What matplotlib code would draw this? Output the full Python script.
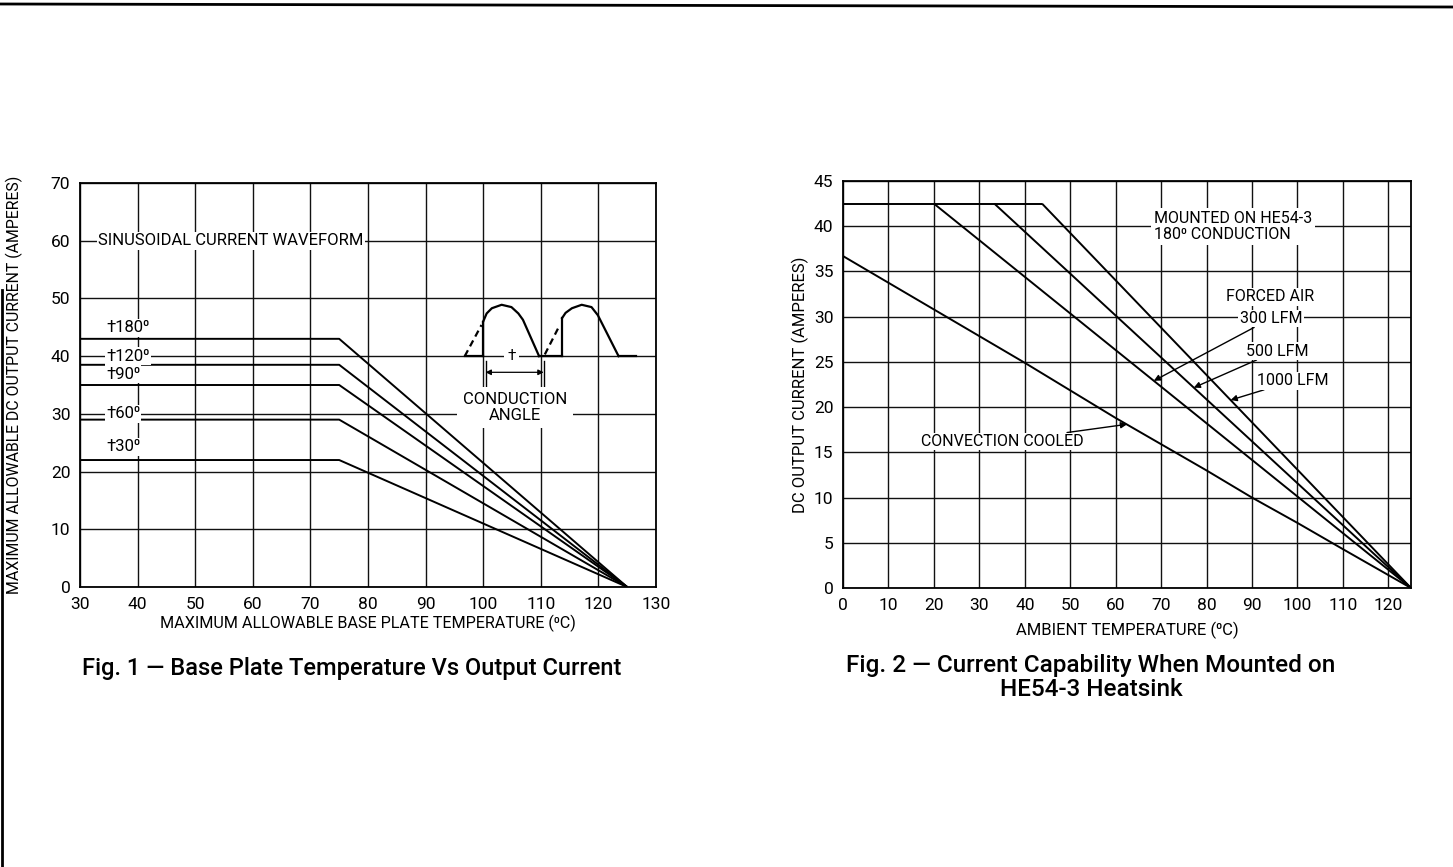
import matplotlib
matplotlib.use("Agg")
import matplotlib.pyplot as plt
from matplotlib.lines import Line2D

# ---------------- DATA ----------------
# Fig. 1 : base plate temperature vs output current
fig1_x_ticks = [30, 40, 50, 60, 70, 80, 90, 100, 110, 120, 130]
fig1_y_ticks = [0, 10, 20, 30, 40, 50, 60, 70]
angle_labels = ["†180⁰", "†120⁰", "†90⁰", "†60⁰", "†30⁰"]
angle_current = [43.0, 38.5, 35.0, 29.0, 22.0]      # flat current (A)
fig1_temps = [30, 75, 125]                          # start, knee, zero-current temperature

# inset waveform (data coords)
wave1_x = [100.0, 100.6, 101.5, 103.2, 104.9, 106.1, 106.9, 109.7]
wave1_y = [46.0, 47.4, 48.3, 48.9, 48.5, 47.4, 46.3, 40.0]
wave2_x = [113.7, 114.3, 115.4, 117.1, 118.8, 119.9, 123.5]
wave2_y = [46.6, 47.5, 48.3, 48.9, 48.5, 47.1, 40.0]

# Fig. 2 : current capability on HE54-3 heatsink
fig2_x_ticks = [0, 10, 20, 30, 40, 50, 60, 70, 80, 90, 100, 110, 120]
fig2_y_ticks = [0, 5, 10, 15, 20, 25, 30, 35, 40, 45]
conv_temp = [0, 20, 40, 60, 80, 90, 100, 110, 125]
conv_current = [36.7, 30.8, 24.9, 18.8, 13.0, 10.0, 7.2, 4.3, 0.0]
air_labels = ["300 LFM", "500 LFM", "1000 LFM"]
air_knee_temp = [20.0, 33.3, 43.8]
air_max_current = 42.5
zero_temp = 125

# ---------------- STYLE ----------------
NARROW = ["Roboto", "DejaVu Sans"]
CAP = ["Roboto", "DejaVu Sans"]
plt.rcParams["font.family"] = NARROW

W, H = 1453, 867
fig = plt.figure(figsize=(W / 100, H / 100), dpi=100)
fig.patch.set_facecolor("white")

def fx(px):
    return px / W

def fy(py):
    return 1 - py / H

# page decoration lines
fig.add_artist(Line2D([0, 1], [fy(4), fy(7)], color="black", lw=2.0, transform=fig.transFigure))
fig.add_artist(Line2D([fx(1.5), fx(1.5)], [fy(290), fy(867)], color="black", lw=2.0, transform=fig.transFigure))

LINE_KW = dict(color="black", lw=1.4, solid_capstyle="butt")
BOX = dict(facecolor="white", edgecolor="none", pad=1.0)

def style_axes(ax):
    ax.set_axisbelow(True)
    ax.grid(True, color="#111111", lw=1.0)
    for s in ax.spines.values():
        s.set_color("black")
        s.set_linewidth(1.3)
    ax.tick_params(length=0, labelsize=12.5, pad=7)

# ---------------- FIG 1 ----------------
ax1 = fig.add_axes([fx(80), fy(587), fx(656) - fx(80), fy(183) - fy(587)])
ax1.set_xlim(30, 130)
ax1.set_ylim(0, 70)
ax1.set_xticks(fig1_x_ticks)
ax1.set_yticks(fig1_y_ticks)
style_axes(ax1)

for cur in angle_current:
    ax1.plot(fig1_temps, [cur, cur, 0], **LINE_KW)

lab_y = [44.9, 40.0, 36.9, 30.0, 24.3]
for lab, y in zip(angle_labels, lab_y):
    ax1.text(34.5, y, lab, fontsize=12, ha="left", va="center", bbox=BOX, zorder=4)

ax1.text(56.2, 60, "SINUSOIDAL CURRENT WAVEFORM", fontsize=12, ha="center", va="center",
         bbox=BOX, zorder=4)

# inset waveform
wkw = dict(color="black", lw=1.6)
ax1.plot(wave1_x, wave1_y, **wkw)
ax1.plot(wave2_x, wave2_y, **wkw)
ax1.plot([wave1_x[0], wave1_x[0]], [40, wave1_y[0]], **wkw)
ax1.plot([wave2_x[0], wave2_x[0]], [40, wave2_y[0]], **wkw)
ax1.plot([96.8, wave1_x[0]], [40, 40], **wkw)
ax1.plot([wave1_x[-1], wave2_x[0]], [40, 40], **wkw)
ax1.plot([wave2_x[-1], 126.6], [40, 40], **wkw)
ax1.plot([96.8, 99.7], [40, 45.4], color="black", lw=1.6, ls=(0, (3, 2)))
ax1.plot([110.7, 113.2], [40.3, 45.2], color="black", lw=1.6, ls=(0, (3, 2)))
ax1.text(104.9, 40, "†", fontsize=11, ha="center", va="center",
         bbox=dict(facecolor="white", edgecolor="none", pad=2.5), zorder=4)
ax1.plot([100.4, 100.4], [34.7, 39.2], color="black", lw=1.0)
ax1.plot([110.5, 110.5], [34.7, 39.2], color="black", lw=1.0)
ax1.annotate("", xy=(100.4, 37.2), xytext=(110.5, 37.2),
             arrowprops=dict(arrowstyle="<|-|>", lw=0.9, color="black", mutation_scale=8,
                             shrinkA=0, shrinkB=0))
ax1.text(105.5, 31.1, "CONDUCTION\nANGLE", fontsize=12, ha="center", va="center",
         multialignment="center", linespacing=1.05,
         bbox=dict(facecolor="white", edgecolor="none", pad=4), zorder=4)

ax1.set_xlabel("MAXIMUM ALLOWABLE BASE PLATE TEMPERATURE (⁰C)", fontsize=11.6, va="center")
ax1.xaxis.set_label_coords(0.5, (587 - 623) / 404)
ax1.set_ylabel("MAXIMUM ALLOWABLE DC OUTPUT CURRENT (AMPERES)", fontsize=11.4, va="center")
ax1.yaxis.set_label_coords((14 - 80) / 576, 0.5)

# ---------------- FIG 2 ----------------
ax2 = fig.add_axes([fx(843), fy(588), fx(1411) - fx(843), fy(181) - fy(588)])
ax2.set_xlim(0, 125)
ax2.set_ylim(0, 45)
ax2.set_xticks(fig2_x_ticks)
ax2.set_yticks(fig2_y_ticks)
style_axes(ax2)

ax2.plot(conv_temp, conv_current, **LINE_KW)
ax2.plot([0, max(air_knee_temp)], [air_max_current, air_max_current], **LINE_KW)
for kt in air_knee_temp:
    ax2.plot([kt, zero_temp], [air_max_current, 0], **LINE_KW)

ax2.text(68.4, 40.0, "MOUNTED ON HE54-3\n180⁰ CONDUCTION", fontsize=11.5, ha="left", va="center",
         linespacing=1.1, bbox=dict(facecolor="white", edgecolor="none", pad=2), zorder=4)
ax2.text(94.0, 32.2, "FORCED AIR", fontsize=11.5, ha="center", va="center", bbox=BOX, zorder=4)

def slope_y(kt, x):
    return air_max_current * (zero_temp - x) / (zero_temp - kt)

air_text_xy = [(87.3, 29.8), (88.6, 26.2), (91.2, 22.9)]
air_arrow_x = [68.4, 77.2, 85.3]
for lab, kt, (tx, ty), axx in zip(air_labels, air_knee_temp, air_text_xy, air_arrow_x):
    ax2.annotate(lab, xy=(axx, slope_y(kt, axx)), xytext=(tx, ty), fontsize=11.5,
                 ha="left", va="center", bbox=BOX, zorder=4,
                 arrowprops=dict(arrowstyle="-|>", lw=1.0, color="black", mutation_scale=9,
                                 shrinkA=0, shrinkB=0))

ax2.annotate("CONVECTION COOLED", xy=(62.5, 18.1), xytext=(52.9, 16.2), fontsize=11.5,
             ha="right", va="center", bbox=BOX, zorder=4,
             arrowprops=dict(arrowstyle="-|>", lw=1.0, color="black", mutation_scale=9,
                             shrinkA=0, shrinkB=0))

ax2.set_xlabel("AMBIENT TEMPERATURE (⁰C)", fontsize=12, va="center")
ax2.xaxis.set_label_coords(0.5, (588 - 630) / 407)
ax2.set_ylabel("DC OUTPUT CURRENT (AMPERES)", fontsize=12, va="center")
ax2.yaxis.set_label_coords((800 - 843) / 568, 0.5)

# ---------------- CAPTIONS ----------------
fig.text(fx(352), fy(668), "Fig. 1 — Base Plate Temperature Vs Output Current",
         family=CAP, fontweight="medium", fontsize=17, ha="center", va="center")
fig.text(fx(1091), fy(677.5), "Fig. 2 — Current Capability When Mounted on\nHE54-3 Heatsink",
         family=CAP, fontweight="medium", fontsize=17.5, ha="center", va="center",
         multialignment="center", linespacing=1.07)

fig.savefig("out.png", dpi=100, facecolor="white")
